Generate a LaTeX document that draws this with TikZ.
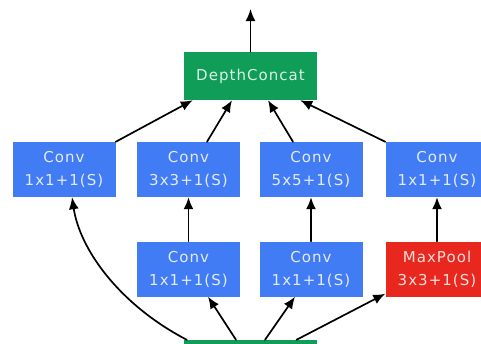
\documentclass[tikz,border=0pt]{standalone}
\usepackage{fontspec}
\usetikzlibrary{arrows.meta}
\newfontfamily\dvsans[LetterSpace=7]{DejaVu Sans}
\begin{document}
\begin{tikzpicture}[x=1pt,y=-1pt,line join=round,line cap=round]
	\definecolor{convblue}{RGB}{66,124,244}
	\definecolor{concatgreen}{RGB}{15,157,88}
	\definecolor{poolred}{RGB}{232,40,30}
	\tikzset{
		layer/.style={fill=#1,text=white!85!#1,inner sep=0pt,
			minimum width=103pt,minimum height=55pt,align=center,
			font=\dvsans\fontsize{15}{23}\selectfont},
		concat/.style={layer=concatgreen,minimum width=133pt,minimum height=48pt},
		flow/.style={line width=1.7pt,-{Latex[length=12pt,width=10pt]}}
	}
	\useasboundingbox (0,0) rectangle (481,343);
	\clip (0,0) rectangle (481,343);
	
	%%%% ô xanh lá
	\node[concat] (depth) at (250.5,76) {DepthConcat};
	\node[concat] (input) at (250.5,364) {};
	\coordinate (out) at (250.5,9);
	
	%%%% hàng trên
	\node[layer=convblue] (conv1) at (64,169.5) {Conv\\1x1+1(S)};
	\node[layer=convblue] (conv3) at (188.5,169.5) {Conv\\3x3+1(S)};
	\node[layer=convblue] (conv5) at (311,169.5) {Conv\\5x5+1(S)};
	\node[layer=convblue] (convp) at (437,169.5) {Conv\\1x1+1(S)};
	
	%%%% hàng dưới
	\node[layer=convblue] (red3) at (188.5,269) {Conv\\1x1+1(S)};
	\node[layer=convblue] (red5) at (311,269) {Conv\\1x1+1(S)};
	\node[layer=poolred] (pool) at (437,269) {MaxPool\\3x3+1(S)};
	
	%%%% mũi tên
	\draw[flow] (depth.north) -- (out);
	\draw[flow] (conv1.north east) -- ([xshift=9pt]depth.south west);
	\draw[flow] ([xshift=18.5pt]conv3.north) -- ([xshift=-18.5pt]depth.south);
	\draw[flow] ([xshift=-18pt]conv5.north) -- ([xshift=17.5pt]depth.south);
	\draw[flow] (convp.north west) -- ([xshift=-17pt]depth.south east);
	\draw[flow] (red3) -- (conv3);
	\draw[flow] (red5) -- (conv5);
	\draw[flow] (pool) -- (convp);
	\draw[flow] ([xshift=3pt]input.north west) .. controls (120,305) and (80,250) .. ([xshift=8pt]conv1.south);
	\draw[flow] ([xshift=-14.5pt]input.north) -- ([xshift=19.5pt]red3.south);
	\draw[flow] ([xshift=14.5pt]input.north) -- ([xshift=-16pt]red5.south);
	\draw[flow] ([xshift=46pt]input.north) -- ([yshift=3pt]pool.south west);
\end{tikzpicture}
\end{document}
